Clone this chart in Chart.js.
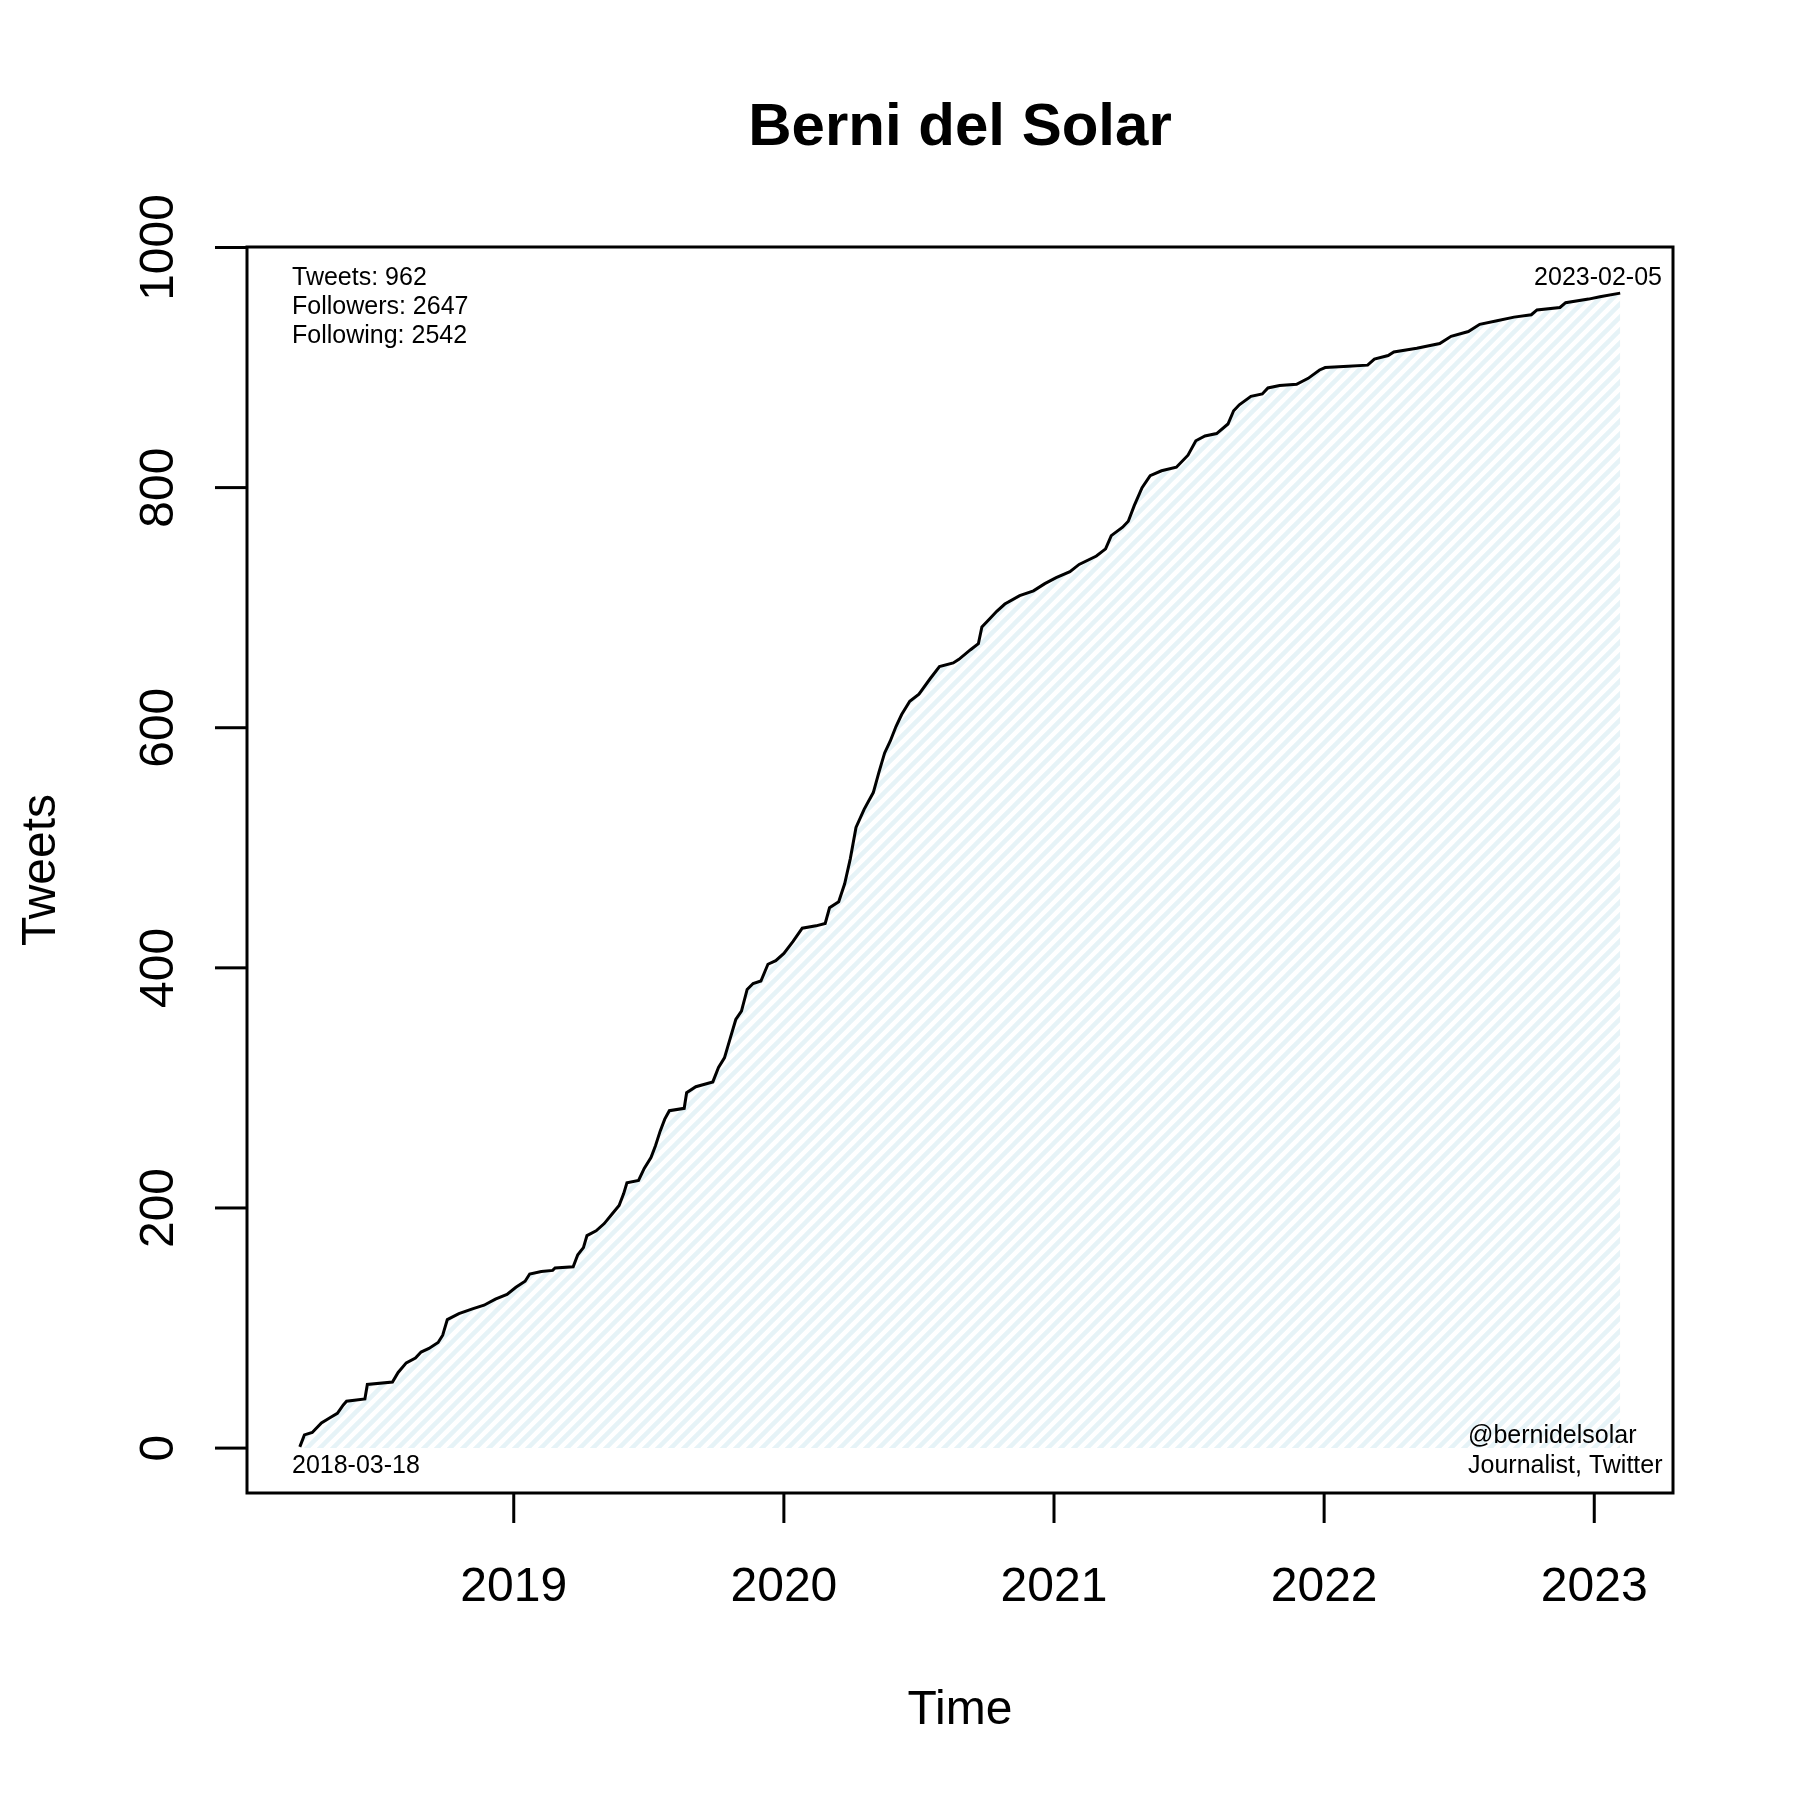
<!DOCTYPE html>
<html>
<head>
<meta charset="utf-8">
<title>Berni del Solar</title>
<script src="https://cdn.jsdelivr.net/npm/chart.js@4/dist/chart.umd.min.js"></script>
<style>
    html, body { margin: 0; padding: 0; background: #fff; }
    #wrap { width: 1800px; height: 1800px; }
</style>
</head>
<body>
<div id="wrap"><canvas id="tweetChart" width="1800" height="1800"></canvas></div>
<script>
// cumulative tweets, time in decimal years
const tweetYear = [
    2018.208, 2018.225, 2018.254, 2018.288, 2018.318, 2018.347, 2018.369, 2018.381, 2018.449, 2018.458,
    2018.551, 2018.572, 2018.602, 2018.636, 2018.657, 2018.686, 2018.720, 2018.737, 2018.754, 2018.797,
    2018.847, 2018.890, 2018.932, 2018.975, 2019.008, 2019.042, 2019.059, 2019.102, 2019.144, 2019.153,
    2019.220, 2019.237, 2019.258, 2019.271, 2019.305, 2019.335, 2019.364, 2019.390, 2019.407, 2019.419,
    2019.462, 2019.483, 2019.508, 2019.525, 2019.542, 2019.559, 2019.576, 2019.631, 2019.640, 2019.674,
    2019.737, 2019.758, 2019.780, 2019.801, 2019.822, 2019.843, 2019.864, 2019.886, 2019.915, 2019.941,
    2019.970, 2020.000, 2020.034, 2020.068, 2020.119, 2020.153, 2020.169, 2020.203, 2020.225, 2020.246,
    2020.267, 2020.297, 2020.331, 2020.352, 2020.373, 2020.394, 2020.415, 2020.436, 2020.466, 2020.500,
    2020.542, 2020.576, 2020.627, 2020.648, 2020.691, 2020.720, 2020.733, 2020.763, 2020.788, 2020.818,
    2020.873, 2020.924, 2020.966, 2021.008, 2021.059, 2021.093, 2021.157, 2021.191, 2021.212, 2021.254,
    2021.275, 2021.297, 2021.326, 2021.356, 2021.398, 2021.453, 2021.496, 2021.525, 2021.559, 2021.602,
    2021.644, 2021.665, 2021.686, 2021.729, 2021.771, 2021.792, 2021.835, 2021.898, 2021.941, 2021.983,
    2022.004, 2022.089, 2022.161, 2022.186, 2022.237, 2022.258, 2022.343, 2022.428, 2022.470, 2022.534,
    2022.576, 2022.640, 2022.703, 2022.767, 2022.788, 2022.873, 2022.894, 2022.979, 2023.021, 2023.096
];
const tweetCount = [
    1, 11, 13, 21, 25, 29, 36, 39, 41, 53,
    55, 63, 71, 75, 80, 83, 88, 94, 107, 112,
    116, 119, 124, 128, 134, 139, 145, 147, 148, 150,
    151, 161, 167, 177, 181, 187, 195, 202, 212, 221,
    223, 233, 242, 252, 264, 274, 281, 283, 296, 301,
    305, 317, 325, 341, 357, 364, 382, 387, 389, 403,
    406, 412, 422, 433, 435, 437, 450, 455, 470, 491,
    517, 532, 546, 563, 579, 589, 601, 611, 622, 628,
    641, 651, 654, 657, 665, 670, 684, 691, 697, 703,
    710, 714, 720, 725, 730, 736, 743, 749, 760, 767,
    772, 785, 800, 810, 814, 817, 827, 839, 843, 845,
    853, 864, 869, 876, 878, 883, 885, 886, 891, 898,
    900, 901, 902, 907, 910, 913, 916, 920, 926, 930,
    936, 939, 942, 944, 948, 950, 954, 957, 959, 962
];

const xTicks = [2019, 2020, 2021, 2022, 2023];
const yTicks = [0, 200, 400, 600, 800, 1000];
const statsLines = ['Tweets: 962', 'Followers: 2647', 'Following: 2542'];
const accountLines = ['@bernidelsolar', 'Journalist, Twitter'];
const firstDate = '2018-03-18';
const lastDate = '2023-02-05';

const FONT = '"Liberation Sans", Arial, Helvetica, sans-serif';

function makeHatch() {
    const s = 13;
    const c = document.createElement('canvas');
    c.width = s; c.height = s;
    const g = c.getContext('2d');
    g.strokeStyle = 'rgba(173, 216, 230, 0.3)';
    g.lineWidth = 4.5;
    g.beginPath();
    g.moveTo(0, s); g.lineTo(s, 0);
    g.moveTo(-2, 2); g.lineTo(2, -2);
    g.moveTo(s - 2, s + 2); g.lineTo(s + 2, s - 2);
    g.stroke();
    return g.createPattern(c, 'repeat');
}

// R-style frame, ticks and text
const baseRPlot = {
    id: 'baseRPlot',
    afterDraw(chart) {
        const ctx = chart.ctx;
        const area = chart.chartArea;
        const xs = chart.scales.x;
        const ys = chart.scales.y;
        ctx.save();
        ctx.strokeStyle = '#000';
        ctx.fillStyle = '#000';
        ctx.lineWidth = 3;
        ctx.lineCap = 'butt';
        ctx.strokeRect(area.left, area.top, area.right - area.left, area.bottom - area.top);

        // x axis
        ctx.font = '48px ' + FONT;
        ctx.textAlign = 'center';
        ctx.textBaseline = 'alphabetic';
        xTicks.forEach(v => {
            const px = xs.getPixelForValue(v);
            ctx.beginPath();
            ctx.moveTo(px, area.bottom);
            ctx.lineTo(px, area.bottom + 30);
            ctx.stroke();
            ctx.fillText(String(v), px, 1601);
        });

        // y axis
        yTicks.forEach(v => {
            const py = ys.getPixelForValue(v);
            ctx.beginPath();
            ctx.moveTo(area.left - 32, py);
            ctx.lineTo(area.left, py);
            ctx.stroke();
            ctx.save();
            ctx.translate(173, py);
            ctx.rotate(-Math.PI / 2);
            ctx.fillText(String(v), 0, 0);
            ctx.restore();
        });

        // axis titles
        ctx.fillText('Time', (area.left + area.right) / 2, 1724);
        ctx.save();
        ctx.translate(55, (area.top + area.bottom) / 2);
        ctx.rotate(-Math.PI / 2);
        ctx.fillText('Tweets', 0, 0);
        ctx.restore();

        // main title
        ctx.font = 'bold 60px ' + FONT;
        ctx.fillText('Berni del Solar', (area.left + area.right) / 2, 145);

        // annotations
        ctx.font = '25px ' + FONT;
        ctx.textAlign = 'left';
        statsLines.forEach((t, i) => ctx.fillText(t, 292, 285 + i * 29));
        ctx.fillText(firstDate, 292, 1473);
        accountLines.forEach((t, i) => ctx.fillText(t, 1468, 1443 + i * 30));
        ctx.textAlign = 'right';
        ctx.fillText(lastDate, 1662, 285);
        ctx.restore();
    }
};

const points = tweetYear.map((t, i) => ({ x: t, y: tweetCount[i] }));

new Chart(document.getElementById('tweetChart'), {
    type: 'line',
    data: {
        datasets: [{
            data: points,
            borderColor: '#000',
            borderWidth: 3,
            backgroundColor: makeHatch(),
            fill: 'origin',
            pointRadius: 0,
            tension: 0
        }]
    },
    options: {
        responsive: false,
        animation: false,
        devicePixelRatio: 1,
        layout: { padding: { left: 247, top: 247, right: 127, bottom: 307 } },
        plugins: { legend: { display: false }, tooltip: { enabled: false } },
        scales: {
            x: { type: 'linear', min: 2018.0125, max: 2023.2915, display: false },
            y: { type: 'linear', min: -37.4, max: 1000.4, display: false }
        }
    },
    plugins: [baseRPlot]
});
</script>
</body>
</html>
